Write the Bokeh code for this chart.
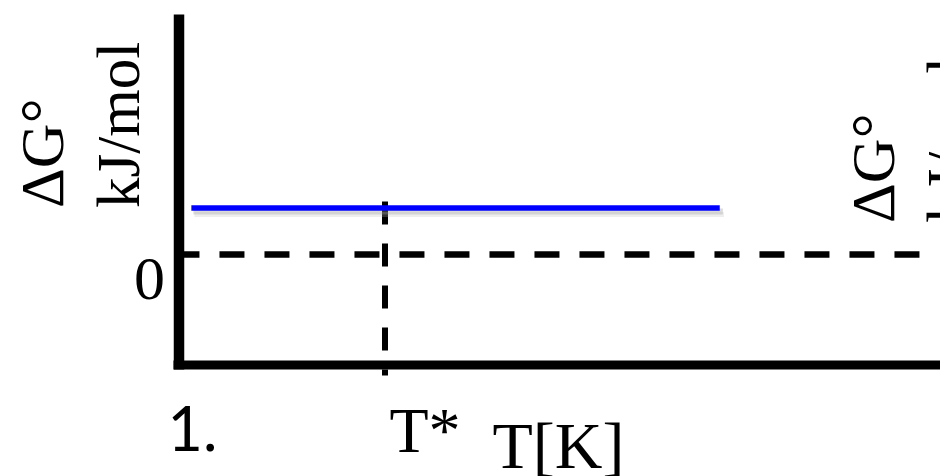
from bokeh.plotting import figure
from bokeh.models import Range1d, Label
from bokeh.embed import file_html
from bokeh.resources import INLINE
import math

# ---- schematic data (arbitrary units) ----
t_star = 2.0                 # T* position
line_t = [0.12, 5.25]        # T extent of the blue ΔG° line
line_dg = [1.0, 1.0]         # constant ΔG° value (above zero)
zero_t = [-0.044, 7.19]      # extent of dashed ΔG°=0 line
axis_top = 5.16              # top of ΔG° axis
axis_bottom = -2.376         # T axis position
vline_dg = [1.14, -2.60]     # extent of dashed T* line
tick_zero = "0"
x_label = "T[K]"
t_star_label = "T*"
y_label_1 = "ΔG°"
y_label_2 = "kJ/mol"
panel_label = "1."

# ---- layout scale (pixels per unit) ----
W, H = 940, 476
X0, SX = 178.5, 103.0   # canvas px of T=0, px per T unit
Y0, SY = 254.0, 46.5    # canvas px of ΔG=0, px per ΔG unit


def fx(px):
    return (px - X0) / SX


def fy(py):
    return (Y0 - py) / SY


p = figure(width=W, height=H, output_backend="svg", toolbar_location=None,
           x_range=Range1d(fx(0), fx(W)), y_range=Range1d(fy(H), fy(0)),
           x_axis_type=None, y_axis_type=None, min_border=0,
           outline_line_color=None, background_fill_color="white",
           border_fill_color="white")
p.grid.visible = False

# dashed zero line
p.line(zero_t, [0, 0], line_color="black", line_width=6.5,
       line_dash="25 20", line_cap="butt")
# dashed T* line
p.line([t_star, t_star], vline_dg, line_color="black", line_width=6,
       line_dash="23 19", line_cap="butt")

# shadow of blue line
p.line([line_t[0] + 0.02, line_t[1] + 0.03], [d - 3.5 / SY for d in line_dg],
       line_color="#999999", line_alpha=0.35, line_width=6)
p.line([line_t[0] + 0.03, line_t[1] + 0.04], [d - 6.5 / SY for d in line_dg],
       line_color="#bbbbbb", line_alpha=0.25, line_width=5)
# blue line
p.line(line_t, line_dg, line_color="#0000FF", line_width=5.5, line_cap="butt")

# axes (thick black)
p.line([0, 0], [axis_top, axis_bottom - 4.5 / SY], line_color="black",
       line_width=10.5, line_cap="butt")
p.line([fx(173), fx(960)], [axis_bottom, axis_bottom], line_color="black",
       line_width=9, line_cap="butt")

serif = "Liberation Serif"
# (ascent - descent) / 2 in em: offset of the 'middle' anchor above baseline
MID = {serif: (0.891 - 0.216) / 2, "Lato": (0.987 - 0.213) / 2}


def lab(text, px, py, size, font=serif, rotated=False):
    off = MID[font] * size
    if rotated:
        ax, ay, ang = px - off, py, math.pi / 2
    else:
        ax, ay, ang = px, py - off, 0.0
    p.add_layout(Label(x=fx(ax), y=fy(ay), text=text, angle=ang,
                       text_font=font, text_font_size=f"{size}px",
                       text_color="black", text_align="left",
                       text_baseline="middle"))


lab(y_label_1, 62.5, 207.5, 62, rotated=True)
lab(y_label_2, 138.5, 207.5, 61, rotated=True)
lab(y_label_1, 893.5, 222.5, 62, rotated=True)
lab(y_label_2, 968.5, 222.5, 61, rotated=True)
lab(tick_zero, 133.5, 299.5, 62)
lab(t_star_label, 389, 451.5, 64)
lab(x_label, 492, 467, 66)
lab(panel_label, 167, 452, 61, font="Lato")

open("out.html", "w").write(file_html(p, INLINE))
